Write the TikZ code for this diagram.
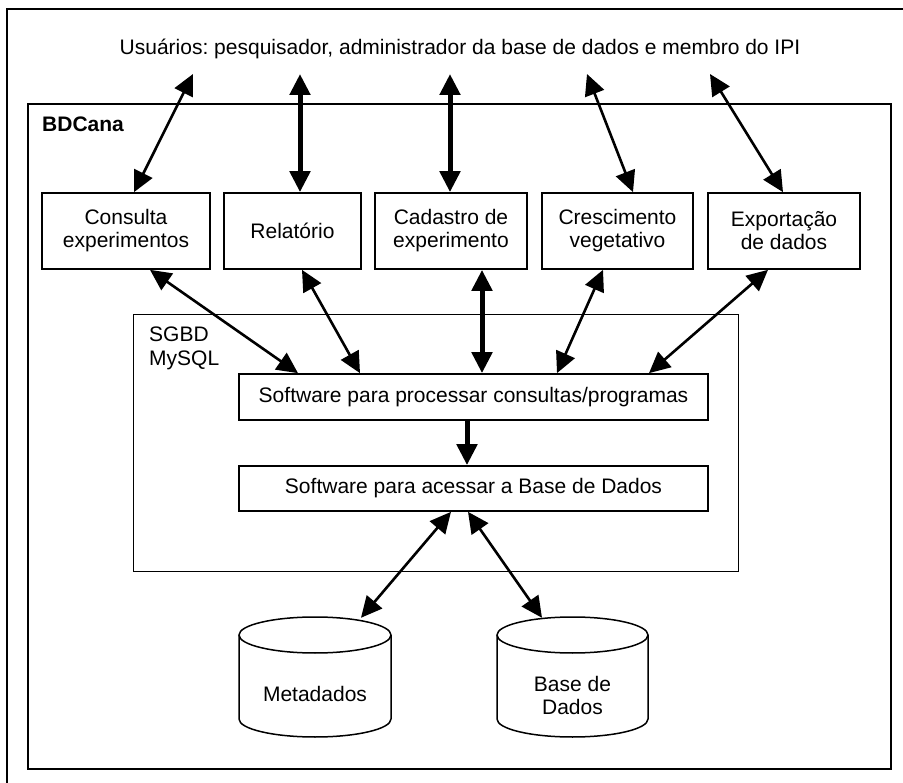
\documentclass[tikz,border=0pt]{standalone}
\usepackage{fontspec}
\setmainfont{Liberation Sans}
\usetikzlibrary{arrows.meta}
\frenchspacing
\begin{document}
\begin{tikzpicture}[x=1pt,y=-1pt,
  font=\fontsize{21}{23}\selectfont,
  >={Triangle[length=21pt,width=20pt]},
  frame/.style={draw, line width=2pt, inner sep=0pt},
  modbox/.style={draw, line width=1.7pt, minimum width=#1, minimum height=76pt, align=center, inner sep=0pt},
  swbox/.style={draw, line width=1.7pt, minimum width=469pt, minimum height=46pt, inner sep=0pt},
  thinarr/.style={line width=2.6pt, <->},
  thickarr/.style={line width=5pt, <->},
  cyl/.style={line width=1.5pt},
  lbl/.style={inner sep=0pt, align=left}
]
\useasboundingbox (0,0) rectangle (903,783);
\clip (0,0) rectangle (903,783);

% outer frame and containers
\node[frame, minimum width=910pt, minimum height=800pt, anchor=north west] (outer) at (6,8) {};
\node[frame, line width=2.4pt, minimum width=863pt, minimum height=665pt, anchor=north west] (bd) at (27,103) {};
\node[frame, line width=1.4pt, minimum width=605pt, minimum height=257pt, anchor=north west] (sgbd) at (133,314) {};

% labels
\node[lbl, anchor=base] (users) at (460,54.3) {Usuários: pesquisador, administrador da base de dados e membro do IPI};
\node[lbl, anchor=north west, font=\fontsize{21}{23}\selectfont\bfseries] (bdlbl) at (42,117) {BDCana};
\node[lbl, anchor=north west, font=\fontsize{21}{24}\selectfont] (sgbdlbl) at (149,327) {SGBD\\MySQL};

% modules
\node[modbox=168pt] (cons) at (126,231) {Consulta\\experimentos};
\node[modbox=137pt] (rel)  at (292.5,231) {Relatório};
\node[modbox=152pt] (cad)  at (451,231) {Cadastro de\\experimento};
\node[modbox=151pt] (cres) at (617.5,231) {Crescimento\\vegetativo};
\node[modbox=152pt] (expo) at (784,231) {Exportação\\de dados};

% software boxes
\node[swbox] (proc) at (473.5,397) {Software para processar consultas/programas};
\node[swbox, minimum height=45pt] (acc) at (473.5,488.5) {Software para acessar a Base de Dados};

% cylinders
\node[inner sep=0pt, minimum width=152pt, minimum height=120pt] (meta) at (315,677) {};
\node[inner sep=0pt, minimum width=151pt, minimum height=120pt] (base) at (572.5,677) {};
\draw[cyl] (315,635) ellipse [x radius=76pt, y radius=18pt];
\draw[cyl] (239,635) -- (239,719) arc[start angle=180, end angle=360, x radius=76pt, y radius=18pt] -- (391,635);
\draw[cyl] (572.5,635) ellipse [x radius=75.5pt, y radius=18pt];
\draw[cyl] (497,635) -- (497,719) arc[start angle=180, end angle=360, x radius=75.5pt, y radius=18pt] -- (648,635);
\node[align=center, inner sep=0pt] (metatxt) at (315,694) {Metadados};
\node[align=center, inner sep=0pt] (basetxt) at (572.5,695) {Base de\\Dados};

% user-side endpoints
\coordinate (u1) at (193,74);
\coordinate (u2) at (300,74);
\coordinate (u3) at (450,74);
\coordinate (u4) at (587,74);
\coordinate (u5) at (710,74);

% top arrows
\draw[thinarr]  (u1) -- ([xshift=8pt]cons.north);
\draw[thickarr] (u2) -- ([xshift=7.5pt]rel.north);
\draw[thickarr] (u3) -- ([xshift=-1pt]cad.north);
\draw[thinarr]  (u4) -- ([xshift=15.5pt]cres.north);
\draw[thinarr]  (u5) -- ([xshift=-1pt]expo.north);

% middle arrows
\draw[thinarr]  ([xshift=24pt]cons.south) -- ([xshift=-175.5pt]proc.north);
\draw[thinarr]  ([xshift=9.5pt]rel.south) -- ([xshift=-113.5pt]proc.north);
\draw[thickarr] ([xshift=31pt]cad.south) -- ([xshift=8.5pt]proc.north);
\draw[thinarr]  ([xshift=-14.5pt]cres.south) -- ([xshift=83.5pt]proc.north);
\draw[thinarr]  ([xshift=-16pt]expo.south) -- ([xshift=175.5pt]proc.north);

% processing -> access
\draw[line width=5pt, ->] ([xshift=-6.5pt]proc.south) -- ([xshift=-6.5pt]acc.north);

% access <-> storage
\draw[thinarr] ([xshift=-22.5pt]acc.south) -- ([xshift=46pt,yshift=-1pt]meta.north);
\draw[thinarr] ([xshift=-5.5pt]acc.south) -- ([xshift=-30.5pt,yshift=-1pt]base.north);
\end{tikzpicture}
\end{document}
